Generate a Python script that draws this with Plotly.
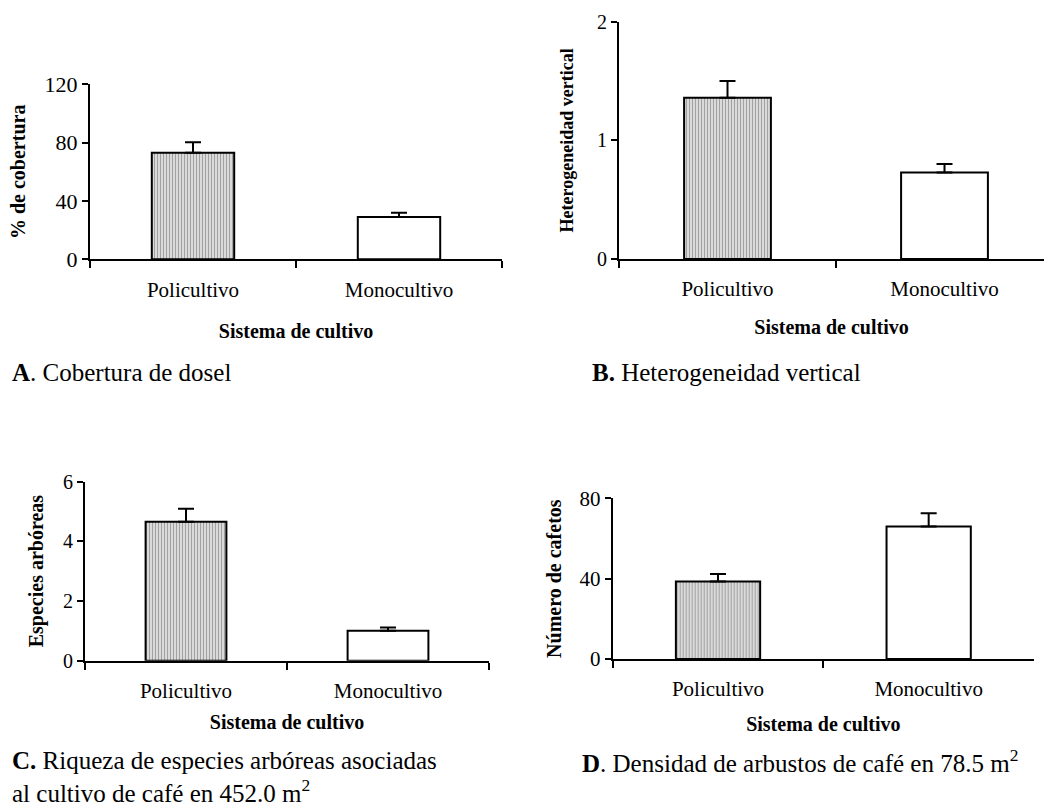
import plotly.graph_objects as go

categories = ["Policultivo", "Monocultivo"]

cobertura = [73, 29]
cobertura_err = [7.2, 3]

heterogeneidad = [1.36, 0.73]
heterogeneidad_err = [0.14, 0.07]

especies = [4.65, 1.0]
especies_err = [0.44, 0.11]

cafetos = [38.6, 66]
cafetos_err = [3.7, 6.6]

W, H = 1044, 809
FONT = "Liberation Serif, Times New Roman, serif"

def px_x(a, b):
    return [a / W, min(b / W, 1.0)]

def px_y(top, bottom):
    return [1 - bottom / H, 1 - top / H]

panels = [
    dict(vals=cobertura, err=cobertura_err, xd=px_x(90, 502), yd=px_y(84.3, 259.3),
         yr=[0, 120], dt=40, ytitle="% de cobertura", ytf=20, ytick=22, xr=[-0.5, 1.5],
         ystand=14, xstand=23),
    dict(vals=heterogeneidad, err=heterogeneidad_err, xd=px_x(619, 1044), yd=px_y(21.7, 259),
         yr=[0, 2], dt=1, ytitle="Heterogeneidad vertical", ytf=18, ytick=20, xr=[-0.5, 1.4585],
         ystand=19, xstand=20),
    dict(vals=especies, err=especies_err, xd=px_x(85, 489), yd=px_y(481.5, 660.7),
         yr=[0, 6], dt=2, ytitle="Especies arbóreas", ytf=20, ytick=20, xr=[-0.5, 1.5],
         ystand=14, xstand=13),
    dict(vals=cafetos, err=cafetos_err, xd=px_x(612.7, 1034), yd=px_y(498.3, 659),
         yr=[0, 80], dt=40, ytitle="Número de cafetos", ytf=20, ytick=21, xr=[-0.5, 1.5],
         ystand=12, xstand=17),
]

fig = go.Figure()
layout = {}
for i, p in enumerate(panels, start=1):
    xa = "x" if i == 1 else f"x{i}"
    ya = "y" if i == 1 else f"y{i}"
    fig.add_trace(go.Bar(
        x=categories, y=p["vals"], xaxis=xa, yaxis=ya, width=0.4,
        marker=dict(
            color=["white", "white"],
            line=dict(color="black", width=2),
            pattern=dict(shape=["|", ""], fgcolor="#8f8f8f", bgcolor="white",
                         size=3, solidity=0.6, fillmode="overlay"),
        ),
        error_y=dict(type="data", symmetric=False, array=p["err"], arrayminus=[0, 0],
                     color="black", thickness=2, width=8),
        showlegend=False,
    ))
    xkey = "xaxis" if i == 1 else f"xaxis{i}"
    ykey = "yaxis" if i == 1 else f"yaxis{i}"
    layout[xkey] = dict(
        domain=p["xd"], anchor=ya, type="category", range=p["xr"], automargin=False,
        showline=True, linecolor="black", linewidth=2,
        ticks="outside", tickson="boundaries", ticklen=7, tickwidth=2, tickcolor="black",
        showgrid=False, zeroline=False,
        tickfont=dict(family=FONT, size=21, color="black"),
        ticklabelstandoff=10,
        title=dict(text="<b>Sistema de cultivo</b>", font=dict(family=FONT, size=20, color="black"),
                   standoff=p["xstand"]),
    )
    layout[ykey] = dict(
        domain=p["yd"], anchor=xa, range=p["yr"], dtick=p["dt"], tick0=0, automargin=False,
        showline=True, linecolor="black", linewidth=2,
        ticks="outside", ticklen=6, tickwidth=2, tickcolor="black",
        showgrid=False, zeroline=False,
        tickfont=dict(family=FONT, size=p["ytick"], color="black"),
        title=dict(text=f"<b>{p['ytitle']}</b>", font=dict(family=FONT, size=p["ytf"], color="black"),
                   standoff=p["ystand"]),
    )

cap_font = dict(family=FONT, size=25, color="black")
captions = [
    ("<b>A</b>. Cobertura de dosel", 10, 372),
    ("<b>B.</b> Heterogeneidad vertical", 590, 372),
    ("<b>C.</b> Riqueza de especies arbóreas asociadas<br>al cultivo de café en 452.0 m<sup>2</sup>", 10, 777),
    ("<b>D</b>. Densidad de arbustos de café en 78.5 m<sup>2</sup>", 580, 761),
]
annotations = []
for text, x, y in captions:
    annotations.append(dict(text=text, x=x / W, y=1 - y / H, xref="paper", yref="paper",
                            xanchor="left", yanchor="middle", showarrow=False, align="left",
                            font=cap_font))

fig.update_layout(
    width=W, height=H, margin=dict(l=0, r=0, t=0, b=0, autoexpand=False),
    paper_bgcolor="white", plot_bgcolor="white",
    annotations=annotations, bargap=0.6,
    **layout,
)

fig.write_html("out.html")
